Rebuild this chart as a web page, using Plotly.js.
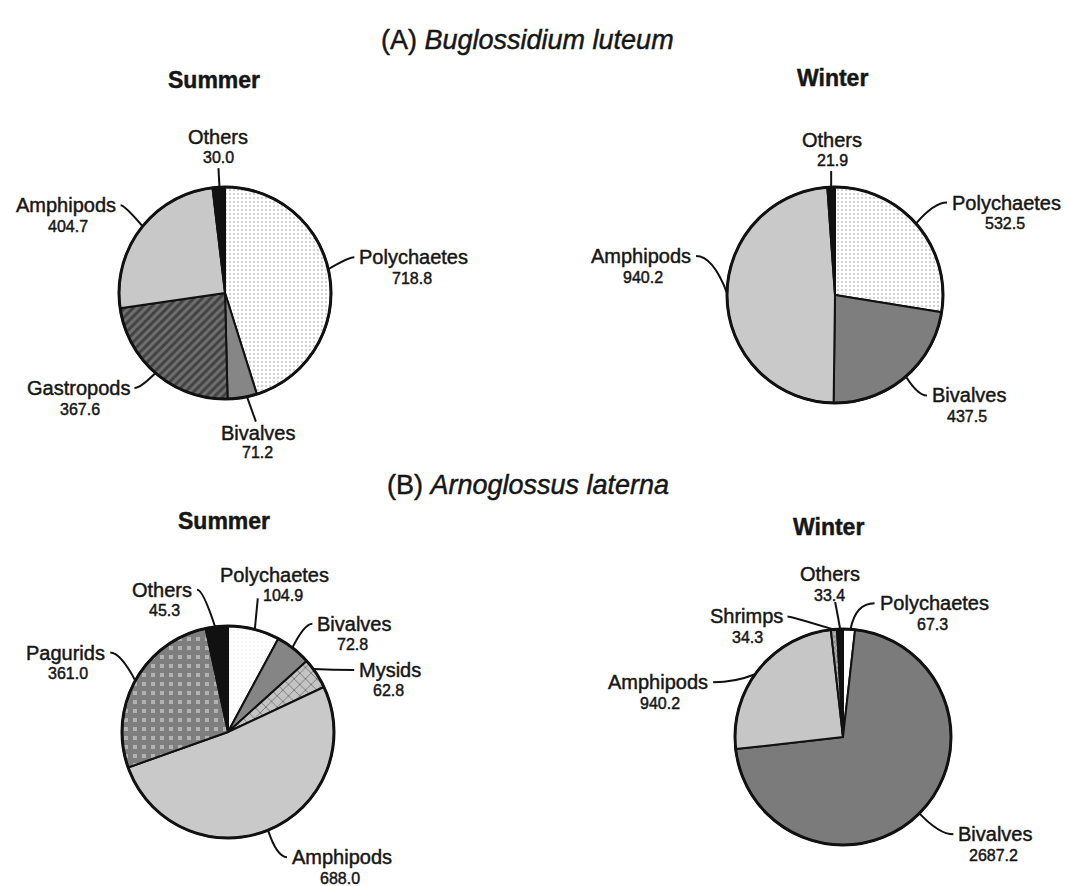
<!DOCTYPE html>
<html>
<head>
<meta charset="utf-8">
<script src="https://cdn.plot.ly/plotly-3.0.1.min.js"></script>
<style>
html,body{margin:0;padding:0;background:#fff;}
#chart .annotation-text{stroke:#161616;stroke-width:0.45px;}
</style>
</head>
<body>
<div id="chart" style="width:1068px;height:886px"></div>
<script>
// ---------------- DATA ----------------
const aSummerCategories = ['Polychaetes', 'Bivalves', 'Gastropods', 'Amphipods', 'Others'];
const aSummerValues = [718.8, 71.2, 367.6, 404.7, 30.0];

const aWinterCategories = ['Polychaetes', 'Bivalves', 'Amphipods', 'Others'];
const aWinterValues = [532.5, 437.5, 940.2, 21.9];

const bSummerCategories = ['Polychaetes', 'Bivalves', 'Mysids', 'Amphipods', 'Pagurids', 'Others'];
const bSummerValues = [104.9, 72.8, 62.8, 688.0, 361.0, 45.3];

const bWinterCategories = ['Polychaetes', 'Bivalves', 'Amphipods', 'Shrimps', 'Others'];
const bWinterValues = [67.3, 2687.2, 940.2, 34.3, 33.4];

const panelLetters = ['(A)', '(B)'];
const speciesNames = ['Buglossidium luteum', 'Arnoglossus laterna'];
const seasonNames = ['Summer', 'Winter', 'Summer', 'Winter'];

// ---------------- STYLE / LAYOUT ----------------
const W = 1068, H = 886;
const FONT = 'Liberation Sans, Arial, Helvetica, sans-serif';
const INK = '#161616';

const pieGeom = [
  {cx: 225, cy: 293, r: 106},
  {cx: 835, cy: 295, r: 108},
  {cx: 228, cy: 732, r: 106},
  {cx: 843, cy: 737, r: 108}
];

const dots = {color: '#ffffff', shape: '.', fg: '#8a8a8a', size: 4, sol: 0.2};
const aSummerStyle = [
  dots,
  {color: '#868686'},
  {color: '#707070', shape: '/', fg: '#141414', size: 6, sol: 0.5},
  {color: '#c8c8c8'},
  {color: '#111111'}
];
const aWinterStyle = [
  dots,
  {color: '#7e7e7e'},
  {color: '#c9c9c9'},
  {color: '#111111'}
];
const bSummerStyle = [
  {color: '#ffffff', shape: '.', fg: '#d2d2d2', size: 4, sol: 0.12},
  {color: '#858585'},
  {color: '#c4c4c4', shape: 'x', fg: '#1a1a1a', size: 8, sol: 0.2},
  {color: '#c9c9c9'},
  {color: '#b2b2b2', shape: '+', fg: '#4a4a4a', size: 9, sol: 0.8},
  {color: '#111111'}
];
const bWinterStyle = [
  {color: '#ffffff'},
  {color: '#7b7b7b'},
  {color: '#c6c6c6'},
  {color: '#b0b0b0', shape: 'x', fg: '#333333', size: 4, sol: 0.3},
  {color: '#111111'}
];

// label leader config: d = angle tweak from slice mid-angle, v = leader bend vector (px),
// h = horizontal tail (px), side = label side
const aSummerLabels = [
  {d: -4.2, v: [20, -12], h: 6, side: 'R'},
  {d: -2.5, v: [9, 25], h: 0, side: 'B', nx: 2},
  {d: 0.8, v: [-15, 15], h: -6, side: 'L'},
  {d: 1.5, v: [-18, -21], h: -4, side: 'L'},
  {d: 0.4, v: [-1, -19], h: 0, side: 'T'}
];
const aWinterLabels = [
  {d: -1, v: [18, -21], h: 13, side: 'R'},
  {d: -1, v: [12, 19], h: 9, side: 'R'},
  {d: 2.7, v: [-14, -37], h: -17, side: 'L'},
  {d: 0, v: [0, -16], h: 0, side: 'T', nx: 1}
];
const bSummerLabels = [
  {d: 0.5, v: [3, -31], h: 0, side: 'T', nx: 17, ny: -23, vx: 25, vy: -3},
  {d: -0.7, v: [12, -24], h: 8, side: 'R'},
  {d: -2.9, v: [20, 1], h: 21, side: 'R'},
  {d: 0.2, v: [9, 27], h: 10, side: 'R'},
  {d: -0.1, v: [-15, -28], h: -10, side: 'L'},
  {d: -0.9, v: [-12, -37], h: -6, side: 'L'}
];
const bWinterLabels = [
  {d: 0.8, v: [5, -26], h: 19, side: 'R'},
  {d: 0, v: [20, 21], h: 14, side: 'R'},
  {d: -3, v: [-20, 8], h: -22, side: 'L'},
  {d: -0.2, v: [-43, -13], h: -3, side: 'L'},
  {d: 0.1, v: [-5, -27], h: 0, side: 'T', nx: -5, ny: -28, vx: -6, vy: -7}
];

const titlePos = [{x: 527, y: 40}, {x: 528, y: 485}];
const seasonPos = [{x: 214, y: 80}, {x: 832, y: 78}, {x: 224, y: 521}, {x: 828, y: 527}];

const NAME_SIZE = 20, VALUE_SIZE = 16;

// ---------------- BUILD ----------------
const px = x => x / W;
const py = y => 1 - y / H;

const canvas = document.createElement('canvas');
const ctx = canvas.getContext('2d');
function textWidth(t, size) {
  ctx.font = size + 'px "Liberation Sans", Arial, sans-serif';
  return ctx.measureText(t).width;
}

const pies = [
  {cats: aSummerCategories, vals: aSummerValues, style: aSummerStyle, labels: aSummerLabels},
  {cats: aWinterCategories, vals: aWinterValues, style: aWinterStyle, labels: aWinterLabels},
  {cats: bSummerCategories, vals: bSummerValues, style: bSummerStyle, labels: bSummerLabels},
  {cats: bWinterCategories, vals: bWinterValues, style: bWinterStyle, labels: bWinterLabels}
];

const traces = [];
const shapes = [];
const annotations = [];

pies.forEach((p, i) => {
  const g = pieGeom[i];
  traces.push({
    type: 'pie',
    labels: p.cats,
    values: p.vals,
    sort: false,
    direction: 'clockwise',
    rotation: 0,
    textinfo: 'none',
    hoverinfo: 'none',
    showlegend: false,
    domain: {x: [px(g.cx - g.r), px(g.cx + g.r)], y: [py(g.cy + g.r), py(g.cy - g.r)]},
    marker: {
      colors: p.style.map(s => s.color),
      line: {color: '#111111', width: 2},
      pattern: {
        shape: p.style.map(s => s.shape || ''),
        fgcolor: p.style.map(s => s.fg || '#000000'),
        bgcolor: p.style.map(s => s.color),
        size: p.style.map(s => s.size || 8),
        solidity: p.style.map(s => s.sol || 0.3),
        fillmode: 'overlay'
      }
    }
  });

  // thicker outer rim
  shapes.push({
    type: 'circle', xref: 'paper', yref: 'paper', layer: 'above',
    x0: px(g.cx - g.r), x1: px(g.cx + g.r), y0: py(g.cy + g.r), y1: py(g.cy - g.r),
    line: {color: '#111111', width: 3}
  });

  // labels
  const total = p.vals.reduce((a, b) => a + b, 0);
  let cum = 0;
  p.vals.forEach((v, k) => {
    const mid = (cum + v / 2) / total * 360;
    cum += v;
    const L = p.labels[k];
    const a = (mid + L.d) * Math.PI / 180;
    const P0 = {x: g.cx + g.r * Math.sin(a), y: g.cy - g.r * Math.cos(a)};
    const P1 = {x: P0.x + L.v[0], y: P0.y + L.v[1]};
    const E = {x: P1.x + L.h, y: P1.y};
    const path = L.h !== 0
      ? `M ${px(P0.x)},${py(P0.y)} Q ${px(P1.x)},${py(P1.y)} ${px(E.x)},${py(E.y)}`
      : `M ${px(P0.x)},${py(P0.y)} L ${px(E.x)},${py(E.y)}`;
    shapes.push({
      type: 'path', xref: 'paper', yref: 'paper', layer: 'above', path: path,
      line: {color: '#111111', width: 2}
    });

    const name = p.cats[k];
    const valText = v.toFixed(1);
    const w = textWidth(name, NAME_SIZE);
    let nameX, nameY, nameAnchor, valX, valY;
    if (L.side === 'R') {
      nameX = E.x + 3; nameAnchor = 'left'; nameY = E.y + (L.ny || 0);
      valX = nameX + w / 2 + (L.vx || 0); valY = nameY + 21;
    } else if (L.side === 'L') {
      nameX = E.x - 3; nameAnchor = 'right'; nameY = E.y + (L.ny || 0);
      valX = nameX - w / 2 + (L.vx || 0); valY = nameY + 21;
    } else if (L.side === 'T') {
      nameX = E.x + (L.nx || 0); nameAnchor = 'center';
      nameY = E.y + (L.ny !== undefined ? L.ny : -31);
      valX = E.x + (L.vx !== undefined ? L.vx : (L.nx || 0));
      valY = E.y + (L.vy !== undefined ? L.vy : -11);
    } else {
      nameX = E.x + (L.nx || 0); nameAnchor = 'center';
      nameY = E.y + 11; valX = nameX; valY = E.y + 31;
    }
    annotations.push({
      xref: 'paper', yref: 'paper', x: px(nameX), y: py(nameY),
      xanchor: nameAnchor, yanchor: 'middle', showarrow: false,
      text: name, font: {family: FONT, size: NAME_SIZE, color: INK}
    });
    annotations.push({
      xref: 'paper', yref: 'paper', x: px(valX), y: py(valY),
      xanchor: 'center', yanchor: 'middle', showarrow: false,
      text: valText, font: {family: FONT, size: VALUE_SIZE, color: INK}
    });
  });
});

// panel titles
panelLetters.forEach((l, i) => {
  annotations.push({
    xref: 'paper', yref: 'paper', x: px(titlePos[i].x), y: py(titlePos[i].y),
    xanchor: 'center', yanchor: 'middle', showarrow: false,
    text: l + ' <i>' + speciesNames[i] + '</i>',
    font: {family: FONT, size: 27, color: INK}
  });
});
seasonNames.forEach((s, i) => {
  annotations.push({
    xref: 'paper', yref: 'paper', x: px(seasonPos[i].x), y: py(seasonPos[i].y),
    xanchor: 'center', yanchor: 'middle', showarrow: false,
    text: '<b>' + s + '</b>',
    font: {family: FONT, size: 23, color: INK}
  });
});

const layout = {
  width: W, height: H,
  margin: {l: 0, r: 0, t: 0, b: 0},
  paper_bgcolor: '#ffffff',
  plot_bgcolor: '#ffffff',
  showlegend: false,
  shapes: shapes,
  annotations: annotations
};

Plotly.newPlot('chart', traces, layout, {staticPlot: true, displayModeBar: false});
</script>
</body>
</html>
